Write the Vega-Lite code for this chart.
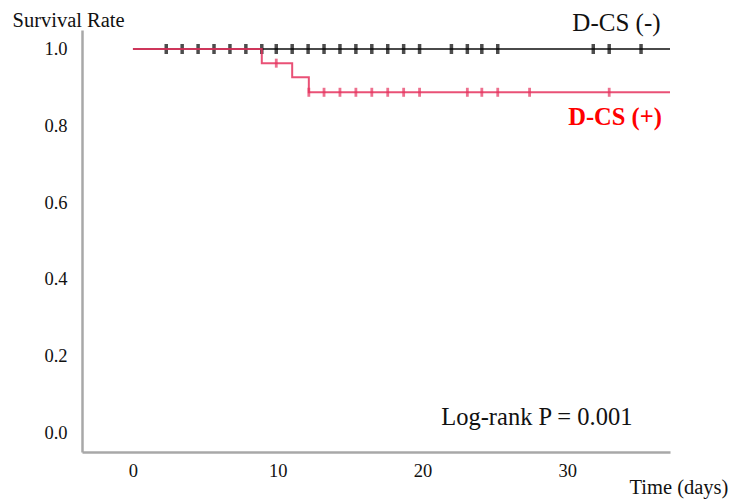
{
  "$schema": "https://vega.github.io/schema/vega-lite/v6.json",
  "autosize": {"type": "none"},
  "padding": {"left": 82, "top": 30, "right": 64, "bottom": 48},
  "width": 588,
  "height": 422,
  "background": "white",
  "config": {
    "view": {"stroke": null},
    "font": "Liberation Serif",
    "axis": {"labelFont": "Liberation Serif", "titleFont": "Liberation Serif", "labelColor": "#111", "titleColor": "#111", "titleFontWeight": "normal"}
  },
  "datasets": {
    "curve": [
      {"group": "D-CS (-)", "t": 0, "s": 1},
      {"group": "D-CS (-)", "t": 37.1, "s": 1},
      {"group": "D-CS (+)", "t": 0, "s": 1},
      {"group": "D-CS (+)", "t": 8.9, "s": 0.963},
      {"group": "D-CS (+)", "t": 11.0, "s": 0.926},
      {"group": "D-CS (+)", "t": 12.15, "s": 0.887},
      {"group": "D-CS (+)", "t": 37.1, "s": 0.887}
    ],
    "censor": [
      {"group": "D-CS (-)", "t": 2.3, "s": 1},
      {"group": "D-CS (-)", "t": 3.4, "s": 1},
      {"group": "D-CS (-)", "t": 4.5, "s": 1},
      {"group": "D-CS (-)", "t": 5.6, "s": 1},
      {"group": "D-CS (-)", "t": 6.7, "s": 1},
      {"group": "D-CS (-)", "t": 7.8, "s": 1},
      {"group": "D-CS (-)", "t": 8.9, "s": 1},
      {"group": "D-CS (-)", "t": 9.9, "s": 1},
      {"group": "D-CS (-)", "t": 11.0, "s": 1},
      {"group": "D-CS (-)", "t": 12.1, "s": 1},
      {"group": "D-CS (-)", "t": 13.2, "s": 1},
      {"group": "D-CS (-)", "t": 14.3, "s": 1},
      {"group": "D-CS (-)", "t": 15.4, "s": 1},
      {"group": "D-CS (-)", "t": 16.5, "s": 1},
      {"group": "D-CS (-)", "t": 17.6, "s": 1},
      {"group": "D-CS (-)", "t": 18.7, "s": 1},
      {"group": "D-CS (-)", "t": 19.8, "s": 1},
      {"group": "D-CS (-)", "t": 22.0, "s": 1},
      {"group": "D-CS (-)", "t": 23.1, "s": 1},
      {"group": "D-CS (-)", "t": 24.1, "s": 1},
      {"group": "D-CS (-)", "t": 25.2, "s": 1},
      {"group": "D-CS (-)", "t": 31.8, "s": 1},
      {"group": "D-CS (-)", "t": 32.9, "s": 1},
      {"group": "D-CS (-)", "t": 35.1, "s": 1},
      {"group": "D-CS (+)", "t": 9.9, "s": 0.963},
      {"group": "D-CS (+)", "t": 12.15, "s": 0.887},
      {"group": "D-CS (+)", "t": 13.2, "s": 0.887},
      {"group": "D-CS (+)", "t": 14.3, "s": 0.887},
      {"group": "D-CS (+)", "t": 15.4, "s": 0.887},
      {"group": "D-CS (+)", "t": 16.5, "s": 0.887},
      {"group": "D-CS (+)", "t": 17.6, "s": 0.887},
      {"group": "D-CS (+)", "t": 18.7, "s": 0.887},
      {"group": "D-CS (+)", "t": 19.8, "s": 0.887},
      {"group": "D-CS (+)", "t": 23.1, "s": 0.887},
      {"group": "D-CS (+)", "t": 24.1, "s": 0.887},
      {"group": "D-CS (+)", "t": 25.2, "s": 0.887},
      {"group": "D-CS (+)", "t": 27.4, "s": 0.887},
      {"group": "D-CS (+)", "t": 32.9, "s": 0.887}
    ],
    "labels": [
      {"label": "D-CS (-)", "t": 33.4, "s": 1.047, "kind": "neg"},
      {"label": "D-CS (+)", "t": 33.3, "s": 0.8016, "kind": "pos"},
      {"label": "Log-rank P = 0.001", "t": 27.9, "s": 0.0183, "kind": "p"}
    ]
  },
  "layer": [
    {
      "data": {"name": "curve"},
      "transform": [{"filter": "datum.group === 'D-CS (-)'"}],
      "mark": {"type": "line", "interpolate": "step-after", "color": "#4a4a4a", "strokeWidth": 2},
      "encoding": {
        "x": {"field": "t", "type": "quantitative", "scale": {"domain": [-3.52, 37.1], "nice": false, "zero": false},
          "axis": {"values": [0, 10, 20, 30], "grid": false, "ticks": false, "domainColor": "#a8a8a8", "domainWidth": 2.5, "labelFontSize": 18.5, "labelPadding": 9, "labelFlush": false,
            "title": "Time (days)", "titleFontSize": 20.5, "titleAlign": "left", "titleBaseline": "alphabetic", "titleAnchor": "start", "titleX": 547, "titleY": 41}},
        "y": {"field": "s", "type": "quantitative", "scale": {"domain": [-0.0522, 1.0496], "nice": false, "zero": false},
          "axis": {"values": [0, 0.2, 0.4, 0.6, 0.8, 1.0], "format": ".1f", "grid": false, "ticks": false, "domainColor": "#a8a8a8", "domainWidth": 2.5, "labelFontSize": 18.5, "labelPadding": 15, "labelFlush": false,
            "title": "Survival Rate", "titleFontSize": 20.5, "titleAngle": 0, "titleAlign": "left", "titleBaseline": "alphabetic", "titleAnchor": "start", "titleX": -70, "titleY": -4}}
      }
    },
    {
      "data": {"name": "censor"},
      "transform": [{"filter": "datum.group === 'D-CS (-)'"}],
      "mark": {"type": "tick", "orient": "vertical", "color": "#000000", "size": 10, "thickness": 3.5},
      "encoding": {
        "x": {"field": "t", "type": "quantitative"},
        "y": {"field": "s", "type": "quantitative"}
      }
    },
    {
      "data": {"name": "curve"},
      "transform": [{"filter": "datum.group === 'D-CS (+)'"}],
      "mark": {"type": "line", "interpolate": "step-after", "color": "#e5335e", "strokeWidth": 2, "opacity": 0.85},
      "encoding": {
        "x": {"field": "t", "type": "quantitative"},
        "y": {"field": "s", "type": "quantitative"}
      }
    },
    {
      "data": {"name": "censor"},
      "transform": [{"filter": "datum.group === 'D-CS (+)'"}],
      "mark": {"type": "tick", "orient": "vertical", "color": "#e5335e", "size": 9, "thickness": 2.8},
      "encoding": {
        "x": {"field": "t", "type": "quantitative"},
        "y": {"field": "s", "type": "quantitative"}
      }
    },
    {
      "data": {"name": "labels"},
      "transform": [{"filter": "datum.kind === 'neg'"}],
      "mark": {"type": "text", "font": "Liberation Serif", "fontSize": 25, "color": "#111111", "align": "center", "baseline": "alphabetic"},
      "encoding": {
        "x": {"field": "t", "type": "quantitative"},
        "y": {"field": "s", "type": "quantitative"},
        "text": {"field": "label"}
      }
    },
    {
      "data": {"name": "labels"},
      "transform": [{"filter": "datum.kind === 'pos'"}],
      "mark": {"type": "text", "font": "Liberation Serif", "fontSize": 24.5, "fontWeight": "bold", "color": "#ff0000", "align": "center", "baseline": "alphabetic"},
      "encoding": {
        "x": {"field": "t", "type": "quantitative"},
        "y": {"field": "s", "type": "quantitative"},
        "text": {"field": "label"}
      }
    },
    {
      "data": {"name": "labels"},
      "transform": [{"filter": "datum.kind === 'p'"}],
      "mark": {"type": "text", "font": "Liberation Serif", "fontSize": 24.5, "color": "#111111", "align": "center", "baseline": "alphabetic"},
      "encoding": {
        "x": {"field": "t", "type": "quantitative"},
        "y": {"field": "s", "type": "quantitative"},
        "text": {"field": "label"}
      }
    }
  ]
}
